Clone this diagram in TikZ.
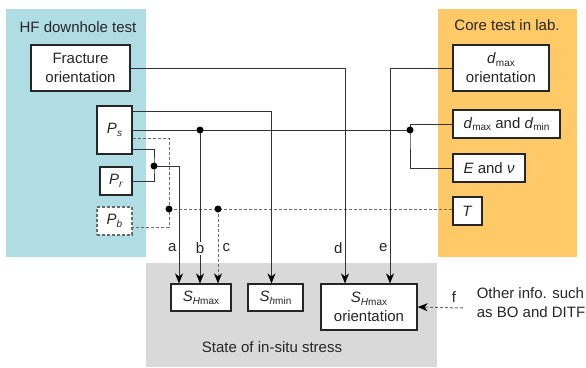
\documentclass[tikz,border=0pt]{standalone}
\usepackage{fontspec}
\setmainfont{Liberation Sans}
\usepackage{xcolor}
\usepackage{tikz}
\usetikzlibrary{positioning}
\usetikzlibrary{arrows.meta,calc}
\definecolor{hfblue}{RGB}{176,221,227}
\definecolor{coreorange}{RGB}{254,201,102}
\definecolor{stressgray}{RGB}{217,217,217}
\definecolor{dashgray}{RGB}{105,105,105}
\tikzstyle{box}=[rectangle,draw=black!85,line width=1.2pt,fill=white,align=center,inner sep=0pt]
\tikzstyle{dashbox}=[box,draw=dashgray,dash pattern=on 3pt off 2pt]
\tikzstyle{link}=[draw,line width=1pt,black!80]
\tikzstyle{dlink}=[draw,line width=1pt,dashgray,dash pattern=on 3pt off 2pt]
\tikzstyle{arr}=[-{Stealth[length=10pt,width=8pt,inset=3pt,color=black]}]
\tikzstyle{letter}=[inner sep=2pt,text=black!85]
\newcommand{\lo}[1]{\raisebox{-0.35ex}{\fontsize{10}{10}\selectfont #1}}

\begin{document}
\begin{tikzpicture}[x=1pt,y=-1pt,font=\fontsize{15}{19}\selectfont,text=black!85]
  \useasboundingbox (0,0) rectangle (586,367);

  % panels
  \fill[hfblue] (6,9) rectangle (146,257);
  \fill[coreorange] (438,9) rectangle (577,257);
  \fill[stressgray] (146,263) rectangle (437,367);

  \node (hftitle) at (78,27) {HF downhole test};
  \node (coretitle) at (507,25) {Core test in lab.};
  \node (stresstitle) at (272,347) {State of in-situ stress};
  \node[align=left] (other) at (531,303) {Other info. such\\as BO and DITF};

  \foreach \x/\y/\w/\h/\name/\label in {
      80.5/68/99/46/frac/{Fracture\\orientation},
      114.5/130/35/48/Ps/{\textit{P}\lo{\textit{s}}},
      116/181/32/28/Pr/{\textit{P}\lo{\textit{r}}},
      501/68/96/46/dmaxor/{\textit{d}\lo{max}\\orientation},
      506.5/124/107/28/dmaxmin/{\textit{d}\lo{max} and \textit{d}\lo{min}},
      489/168/72/28/Enu/{\textit{E} and \textit{ν}},
      467.5/211/29/28/T/{\textit{T}},
      201/297.5/60/27/SHmax/{\textit{S}\lo{\textit{H}max}},
      275.5/297.5/55/27/Shmin/{\textit{S}\lo{\textit{h}min}},
      369/307/96/46/SHor/{\textit{S}\lo{\textit{H}max}\\orientation}}
          \node[box,minimum width=\w,minimum height=\h] (\name) at (\x,\y) {\label};

  \node[dashbox,minimum width=35,minimum height=28] (Pb) at (114.5,221) {\textit{P}\lo{\textit{b}}};

  \coordinate (ja) at (154,166);
  \coordinate (jb) at (200,130);
  \coordinate (jm) at (410,130);
  \coordinate (jp) at (169,209);
  \coordinate (jc) at (218,209);
  \coordinate (fstart) at (463,308);

  % dashed links
  \path[dlink] ([yshift=-8pt]Ps.east) -| (jp) |- ([yshift=-6pt]Pb.east);
  \path[dlink] (jp) -- (jp -| T.west);
  \path[dlink,arr] (jc) -- node[pos=0.52,right,letter,inner sep=4pt] (lc) {c} (jc |- SHmax.north);
  \path[dlink,arr] (fstart) -- node[pos=0.2,above=5pt,letter,inner sep=0pt] (lf) {f} (SHor.east);

  % solid links
  \path[link,arr] (frac.east) -| node[pos=0.917,left,letter] (ld) {d} ([xshift=-24pt]SHor.north);
  \path[link,arr] (dmaxor.west) -| node[pos=0.917,left,letter] (le) {e} ([xshift=21pt]SHor.north);
  \path[link,arr] ([yshift=-6pt]Ps.north east) -| ([xshift=-4pt]Shmin.north);
  \path[link] (Ps.east) -- (jm);
  \path[link] (dmaxmin.west) -| (jm) |- (Enu.west);
  \path[link,arr] (jb) -- node[pos=0.77,fill=white,letter,inner sep=1pt] (lb) {b} (jb |- SHmax.north);
  \path[link] ([yshift=-19pt]Ps.east) -| (ja) |- (Pr.east);
  \path[link,arr] (ja) -| node[pos=0.847,left,letter] (la) {a} ([xshift=-22pt]SHmax.north);

  \foreach \pt in {ja,jb,jm,jp,jc}
         \fill[black] (\pt) circle (3.5pt);

\end{tikzpicture}
\end{document}
